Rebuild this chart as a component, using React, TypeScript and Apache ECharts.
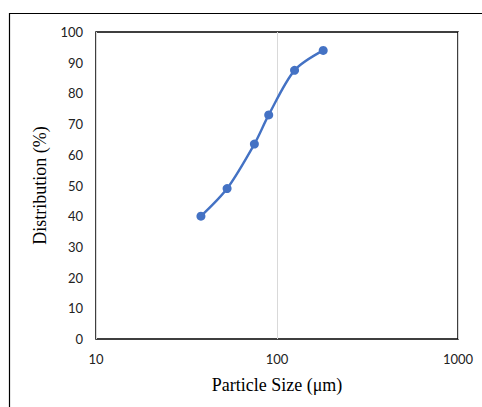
import React, { useEffect, useRef } from "react";
import * as echarts from "echarts";

const sizes = [38, 53, 75, 90, 125, 180];
const distribution = [40, 49, 63.5, 73, 87.5, 94];
const xTitle = "Particle Size (μm)";
const yTitle = "Distribution (%)";

export default function App() {
  const ref = useRef<HTMLDivElement>(null);
  useEffect(() => {
    const chart = echarts.init(ref.current!, null, { renderer: "svg" });
    chart.setOption({
      animation: false,
      graphic: [
        {
          type: "rect",
          shape: { x: 9.5, y: 13.5, width: 500, height: 420 },
          style: { fill: "none", stroke: "#000", lineWidth: 1.2 },
          silent: true,
        },
      ],
      grid: {
        left: 96,
        right: 24,
        top: 32,
        bottom: 68,
        show: true,
        borderColor: "#000",
        borderWidth: 1.5,
        backgroundColor: "transparent",
      },
      xAxis: {
        type: "log",
        logBase: 10,
        min: 10,
        max: 1000,
        name: xTitle,
        nameLocation: "middle",
        nameGap: 37,
        nameTextStyle: { fontFamily: "Liberation Serif", fontSize: 18, color: "#000" },
        axisLine: { show: false },
        axisTick: { show: false },
        minorTick: { show: false },
        axisLabel: {
          fontFamily: "Lato",
          fontSize: 13,
          color: "#222",
          margin: 13,
          formatter: (v: number) => String(Math.round(v)),
        },
        splitLine: { show: true, lineStyle: { color: "#d9d9d9", width: 1 } },
      },
      yAxis: {
        type: "value",
        min: 0,
        max: 100,
        interval: 10,
        name: yTitle,
        nameLocation: "middle",
        nameGap: 42,
        nameTextStyle: { fontFamily: "Liberation Serif", fontSize: 18, color: "#000" },
        axisLine: { show: false },
        axisTick: { show: false },
        axisLabel: { fontFamily: "Lato", fontSize: 13, color: "#222", margin: 13 },
        splitLine: { show: false },
      },
      series: [
        {
          type: "line",
          data: sizes.map((s, i) => [s, distribution[i]]),
          smooth: 0.3,
          symbol: "circle",
          symbolSize: 9,
          lineStyle: { color: "#4472C4", width: 2.4 },
          itemStyle: { color: "#4472C4" },
        },
      ],
    });
    return () => chart.dispose();
  }, []);
  return (
    <div
      ref={ref}
      style={{ position: "fixed", left: 0, top: 0, width: 482, height: 407, background: "#fff" }}
    />
  );
}
